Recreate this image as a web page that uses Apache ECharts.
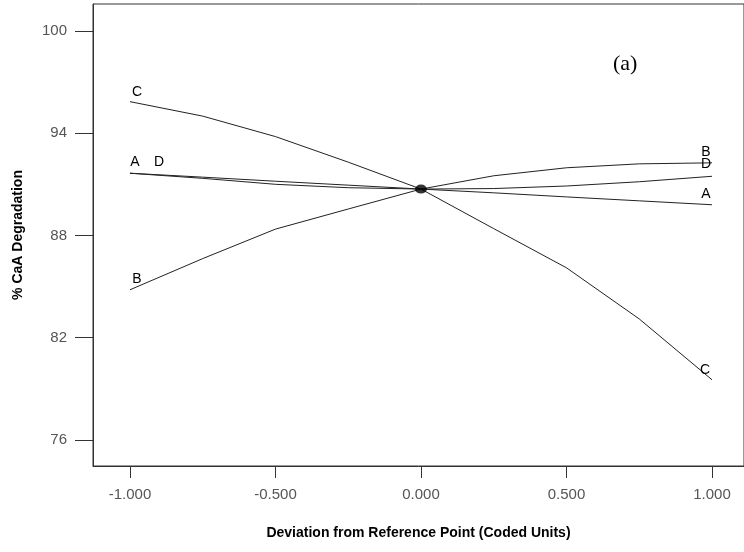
<!DOCTYPE html>
<html>
<head>
<meta charset="utf-8">
<script src="https://cdn.jsdelivr.net/npm/echarts@6/dist/echarts.min.js"></script>
<style>html,body{margin:0;padding:0;background:#fff}#c{width:744px;height:552px}</style>
</head>
<body>
<div id="c"></div>
<script>
const xValues = [-1, -0.75, -0.5, -0.25, 0, 0.25, 0.5, 0.75, 1];
const seriesA = [91.65, 91.42, 91.18, 90.95, 90.72, 90.50, 90.26, 90.03, 89.80];
const seriesB = [84.81, 86.64, 88.37, 89.55, 90.72, 91.50, 91.97, 92.20, 92.26];
const seriesC = [95.85, 95.00, 93.80, 92.30, 90.72, 88.40, 86.10, 83.10, 79.53];
const seriesD = [91.65, 91.35, 91.00, 90.80, 90.72, 90.75, 90.90, 91.15, 91.47];
const centerPoint = [0, 90.72];
const xTicks = [-1, -0.5, 0, 0.5, 1];
const yTicks = [76, 82, 88, 94, 100];

const labelOffsets = {
  A: {left: [5, -11], right: [-6, -11]},
  B: {left: [7, -11], right: [-6, -11]},
  C: {left: [7, -10], right: [-7, -10]},
  D: {left: [29, -11], right: [-6, -12]}
};

function buildSeries(name, values) {
  const last = values.length - 1;
  return {
    type: 'line',
    name: name,
    smooth: false,
    symbol: 'circle',
    symbolSize: 0,
    showSymbol: true,
    lineStyle: {color: '#222', width: 1},
    itemStyle: {color: '#222'},
    z: 3,
    data: values.map((v, i) => {
      const item = {value: [xValues[i], v]};
      if (i === 0 || i === last) {
        item.label = {
          show: true,
          formatter: name,
          position: 'inside',
          offset: i === 0 ? labelOffsets[name].left : labelOffsets[name].right,
          color: '#000',
          fontFamily: 'Liberation Sans, Arial, sans-serif',
          fontSize: 14
        };
      }
      return item;
    })
  };
}

const chart = echarts.init(document.getElementById('c'), null, {renderer: 'canvas'});
chart.setOption({
  animation: false,
  backgroundColor: '#fff',
  grid: {left: 93, right: 0, top: 4, bottom: 86, show: true, borderColor: '#333', borderWidth: 1},
  xAxis: {
    type: 'value',
    min: -1.127,
    max: 1.11,
    name: 'Deviation from Reference Point (Coded Units)',
    nameLocation: 'middle',
    nameGap: 60,
    nameTextStyle: {fontFamily: 'Liberation Sans, Arial, sans-serif', fontWeight: 'bold', fontSize: 14, color: '#000'},
    axisLine: {show: true, onZero: false, lineStyle: {color: '#333', width: 1}},
    axisTick: {show: true, length: 12, customValues: xTicks, lineStyle: {color: '#333'}},
    axisLabel: {customValues: xTicks, formatter: v => v.toFixed(3), margin: 21, fontFamily: 'Liberation Sans, Arial, sans-serif', fontSize: 15, color: '#555'},
    splitLine: {show: false}
  },
  yAxis: {
    type: 'value',
    min: 74.47,
    max: 101.58,
    name: '% CaA Degradation',
    nameLocation: 'middle',
    nameGap: 68,
    nameTextStyle: {fontFamily: 'Liberation Sans, Arial, sans-serif', fontWeight: 'bold', fontSize: 14, color: '#000'},
    axisLine: {show: true, onZero: false, lineStyle: {color: '#333', width: 1}},
    axisTick: {show: true, length: 18, customValues: yTicks, lineStyle: {color: '#333'}},
    axisLabel: {customValues: yTicks, margin: 26, fontFamily: 'Liberation Sans, Arial, sans-serif', fontSize: 15, color: '#555'},
    splitLine: {show: false}
  },
  series: [
    buildSeries('A', seriesA),
    buildSeries('B', seriesB),
    buildSeries('C', seriesC),
    buildSeries('D', seriesD),
    {
      type: 'scatter',
      symbol: 'circle',
      symbolSize: [12, 9],
      itemStyle: {color: '#000'},
      z: 5,
      data: [centerPoint]
    }
  ],
  graphic: [{
    type: 'text',
    left: 613,
    top: 53,
    style: {text: '(a)', font: '22px "Liberation Serif", "Times New Roman", serif', fill: '#000'}
  }]
});
</script>
</body>
</html>
